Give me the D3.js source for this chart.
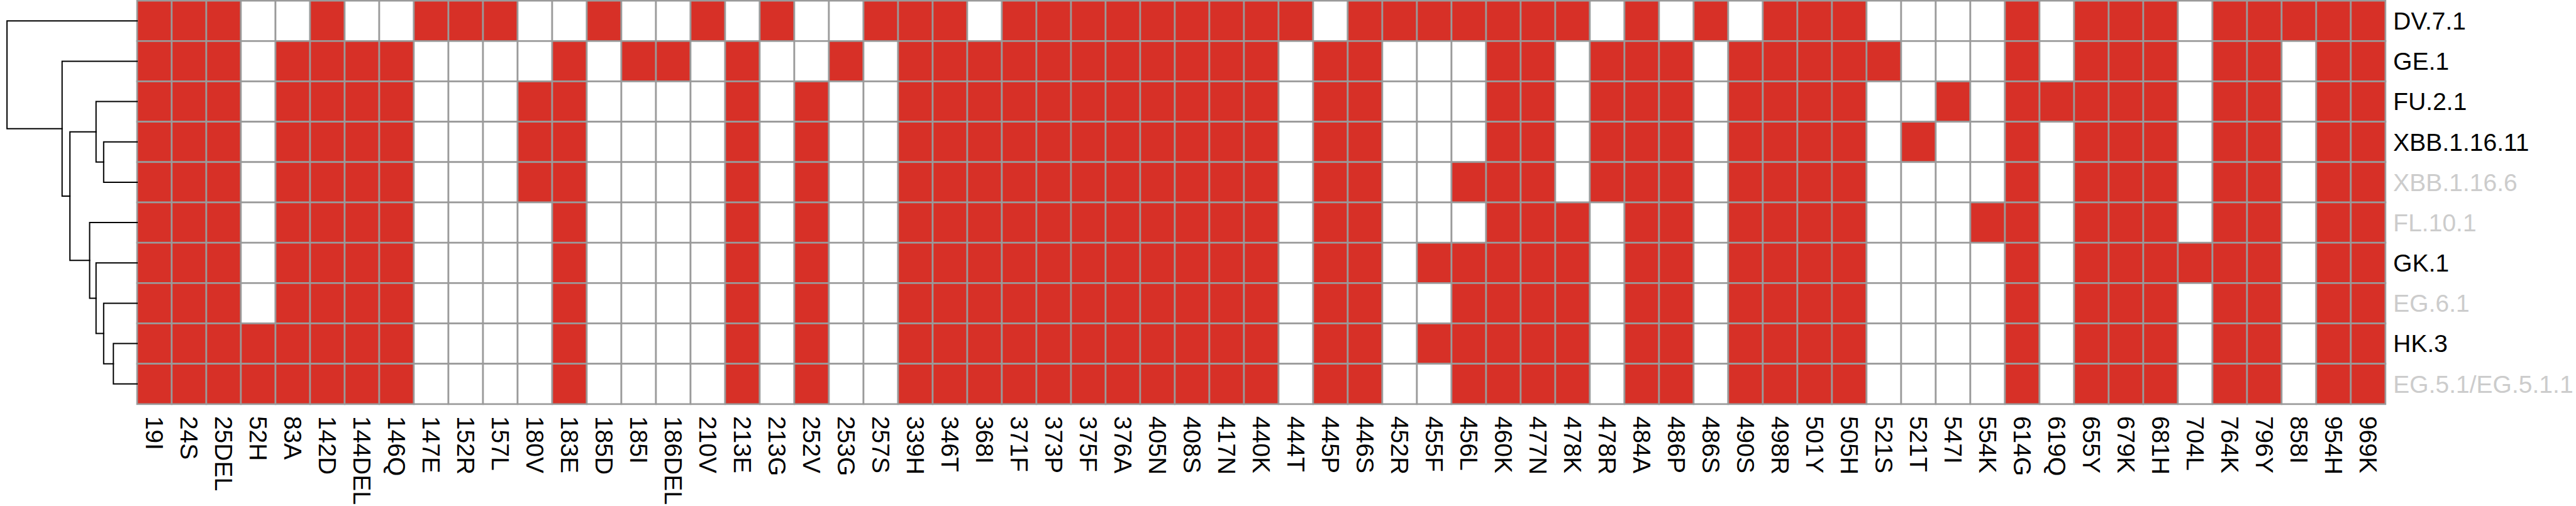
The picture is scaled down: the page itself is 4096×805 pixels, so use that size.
<!DOCTYPE html>
<html><head><meta charset="utf-8">
<script src="https://cdn.jsdelivr.net/npm/d3@7"></script>
<style>html,body{margin:0;padding:0;background:#fff;overflow:hidden;} svg{display:block;}</style>
</head><body>
<svg id="chart" width="4096" height="805"></svg>
<script>
// ---------------- data ----------------
const rowLabels = ["DV.7.1","GE.1","FU.2.1","XBB.1.16.11","XBB.1.16.6","FL.10.1","GK.1","EG.6.1","HK.3","EG.5.1/EG.5.1.1"];
const rowMuted = [false,false,false,false,true,true,false,true,false,true];
const colLabels = ["19I","24S","25DEL","52H","83A","142D","144DEL","146Q","147E","152R",
  "157L","180V","183E","185D","185I","186DEL","210V","213E","213G","252V",
  "253G","257S","339H","346T","368I","371F","373P","375F","376A","405N",
  "408S","417N","440K","444T","445P","446S","452R","455F","456L","460K",
  "477N","478K","478R","484A","486P","486S","490S","498R","501Y","505H",
  "521S","521T","547I","554K","614G","619Q","655Y","679K","681H","704L",
  "764K","796Y","858I","954H","969K"];
const presence = [
  [1,1,1,0,0,1,0,0,1,1, 1,0,0,1,0,0,1,0,1,0, 0,1,1,1,0,1,1,1,1,1, 1,1,1,1,0,1,1,1,1,1, 1,1,0,1,0,1,0,1,1,1, 0,0,0,0,1,0,1,1,1,0, 1,1,1,1,1],
  [1,1,1,0,1,1,1,1,0,0, 0,0,1,0,1,1,0,1,0,0, 1,0,1,1,1,1,1,1,1,1, 1,1,1,0,1,1,0,0,0,1, 1,0,1,1,1,0,1,1,1,1, 1,0,0,0,1,0,1,1,1,0, 1,1,0,1,1],
  [1,1,1,0,1,1,1,1,0,0, 0,1,1,0,0,0,0,1,0,1, 0,0,1,1,1,1,1,1,1,1, 1,1,1,0,1,1,0,0,0,1, 1,0,1,1,1,0,1,1,1,1, 0,0,1,0,1,1,1,1,1,0, 1,1,0,1,1],
  [1,1,1,0,1,1,1,1,0,0, 0,1,1,0,0,0,0,1,0,1, 0,0,1,1,1,1,1,1,1,1, 1,1,1,0,1,1,0,0,0,1, 1,0,1,1,1,0,1,1,1,1, 0,1,0,0,1,0,1,1,1,0, 1,1,0,1,1],
  [1,1,1,0,1,1,1,1,0,0, 0,1,1,0,0,0,0,1,0,1, 0,0,1,1,1,1,1,1,1,1, 1,1,1,0,1,1,0,0,1,1, 1,0,1,1,1,0,1,1,1,1, 0,0,0,0,1,0,1,1,1,0, 1,1,0,1,1],
  [1,1,1,0,1,1,1,1,0,0, 0,0,1,0,0,0,0,1,0,1, 0,0,1,1,1,1,1,1,1,1, 1,1,1,0,1,1,0,0,0,1, 1,1,0,1,1,0,1,1,1,1, 0,0,0,1,1,0,1,1,1,0, 1,1,0,1,1],
  [1,1,1,0,1,1,1,1,0,0, 0,0,1,0,0,0,0,1,0,1, 0,0,1,1,1,1,1,1,1,1, 1,1,1,0,1,1,0,1,1,1, 1,1,0,1,1,0,1,1,1,1, 0,0,0,0,1,0,1,1,1,1, 1,1,0,1,1],
  [1,1,1,0,1,1,1,1,0,0, 0,0,1,0,0,0,0,1,0,1, 0,0,1,1,1,1,1,1,1,1, 1,1,1,0,1,1,0,0,1,1, 1,1,0,1,1,0,1,1,1,1, 0,0,0,0,1,0,1,1,1,0, 1,1,0,1,1],
  [1,1,1,1,1,1,1,1,0,0, 0,0,1,0,0,0,0,1,0,1, 0,0,1,1,1,1,1,1,1,1, 1,1,1,0,1,1,0,1,1,1, 1,1,0,1,1,0,1,1,1,1, 0,0,0,0,1,0,1,1,1,0, 1,1,0,1,1],
  [1,1,1,1,1,1,1,1,0,0, 0,0,1,0,0,0,0,1,0,1, 0,0,1,1,1,1,1,1,1,1, 1,1,1,0,1,1,0,0,1,1, 1,1,0,1,1,0,1,1,1,1, 0,0,0,0,1,0,1,1,1,0, 1,1,0,1,1]
];
// hclust-style merges: negative = leaf (1-based row index), positive = earlier merge
const mergeLeft   = [-9, -8, -7, -6, -4, -3, 6, -2, -1];
const mergeRight  = [-10, 1,  2,  3, -5,  5, 4,  7,  8];
const mergeHeight = [1.00, 1.41, 1.73, 2.00, 1.41, 1.73, 2.83, 3.16, 5.48];

// ---------------- layout (reference px, scaled to window) ----------------
const S = 4096 / 4302;
const W = 4302, H = 846;
const gridL = 229, gridR = 3983.7, gridT = 1.2, gridB = 675.2;
const treeL = 11.7;
const FONT = "'Liberation Sans', Arial, Helvetica, sans-serif";
const RED = "#D73027";

const svg = d3.select("#chart");
const g = svg.append("g").attr("transform", `scale(${S})`);

const x = d3.scaleBand().domain(d3.range(colLabels.length)).range([gridL, gridR]).padding(0);
const y = d3.scaleBand().domain(d3.range(rowLabels.length)).range([gridT, gridB]).padding(0);
const hx = d3.scaleLinear().domain([0, d3.max(mergeHeight)]).range([gridL, treeL]);

// cells
const cells = [];
presence.forEach((row, r) => row.forEach((v, c) => cells.push({r, c, v})));
g.append("g").selectAll("rect").data(cells).join("rect")
  .attr("x", d => x(d.c)).attr("y", d => y(d.r))
  .attr("width", x.bandwidth()).attr("height", y.bandwidth())
  .attr("fill", d => d.v ? RED : "#ffffff")
  .attr("stroke", "#9a9a9a").attr("stroke-width", 2.8);

// row labels
g.append("g").selectAll("text").data(rowLabels).join("text")
  .attr("x", gridR + 13)
  .attr("y", (d, i) => y(i) + y.bandwidth() / 2)
  .attr("dy", "0.355em")
  .attr("font-family", FONT).attr("font-size", 41)
  .attr("fill", (d, i) => rowMuted[i] ? "#cccccc" : "#000000")
  .text(d => d);

// column labels (rotated, reading downward)
g.append("g").selectAll("text").data(colLabels).join("text")
  .attr("transform", (d, i) => `translate(${x(i) + x.bandwidth() / 2},${gridB + 20}) rotate(90)`)
  .attr("dy", "0.355em")
  .attr("font-family", FONT).attr("font-size", 41)
  .attr("fill", "#000")
  .text(d => d);

// dendrogram
const nodeY = [];
const nodeH = [];
function pos(id) {
  if (id < 0) return {y: y(-id - 1) + y.bandwidth() / 2, h: 0};
  return {y: nodeY[id - 1], h: nodeH[id - 1]};
}
const paths = [];
for (let k = 0; k < mergeHeight.length; k++) {
  const a = pos(mergeLeft[k]), b = pos(mergeRight[k]);
  const h = mergeHeight[k];
  nodeY[k] = (a.y + b.y) / 2;
  nodeH[k] = h;
  paths.push(`M${hx(a.h)},${a.y}H${hx(h)}V${b.y}H${hx(b.h)}`);
}
g.append("g").selectAll("path").data(paths).join("path")
  .attr("d", d => d)
  .attr("fill", "none").attr("stroke", "#000").attr("stroke-width", 2.1)
  .attr("stroke-linecap", "square");
</script>
</body></html>
